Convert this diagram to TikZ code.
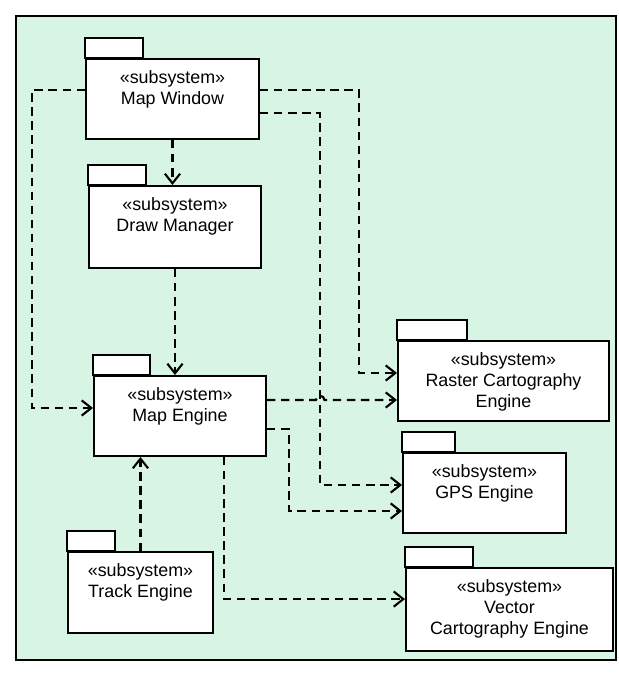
\documentclass[tikz,border=0pt]{standalone}
\usepackage{fontspec}
\setmainfont{Liberation Sans}
\usetikzlibrary{arrows.meta}
\definecolor{mint}{RGB}{216,244,228}

\begin{document}
\begin{tikzpicture}[x=0.025cm, y=-0.025cm, font=\fontsize{12.7}{15}\selectfont,
		pkg/.style={draw, line width=1.4pt, fill=white, anchor=north west, inner sep=0pt},
		pkgtab/.style={draw, line width=1.4pt, fill=white},
		pkglabel/.style={anchor=north, align=center, inner sep=0pt},
		dep/.style={line width=1.5pt, dash pattern=on 6pt off 4pt,
			-{Straight Barb[length=2.4mm, width=3.8mm]}}]
		\useasboundingbox (0,0) rectangle (619,679);
		% рамка
		\draw[line width=1.6pt, fill=mint] (16,16) rectangle (616,660);
		% пакеты
		\foreach \nm/\x/\y/\w/\h/\tw/\txt in {
			mw/85/58/173/80/58/{«subsystem»\\Map Window},
			dm/88/185/172/82/58/{«subsystem»\\Draw Manager},
			me/93/375/172/80/57/{«subsystem»\\Map Engine},
			te/67/551/145/81/48/{«subsystem»\\Track Engine},
			rc/397/340/211/80/70/{«subsystem»\\Raster Cartography\\Engine},
			gps/402/452/163/80/53/{«subsystem»\\GPS Engine},
			vc/405/567/207/83/68/{«subsystem»\\Vector\\Cartography Engine}}{
			\draw[pkgtab] (\x,\y) rectangle ++(\tw,-20);
			\node[pkg, minimum width=\w*0.025cm, minimum height=\h*0.025cm] (\nm) at (\x,\y) {};
			\node[pkglabel] (\nm-txt) at ([yshift=-0.3cm]\nm.north) {\txt};
		}
		% зависимости от Map Window
		\draw[dep] (mw.south) -- (mw.south |- dm.north);
		\draw[dep] ([yshift=.225cm]mw.west) -- ++(-53,0) |- ([yshift=.2cm]me.west);
		\draw[dep] ([yshift=.225cm]mw.east) -- ++(99,0) |- ([yshift=.2cm]rc.west);
		\draw[dep] ([yshift=-.35cm]mw.east) -- ++(60,0) |- ([yshift=.2cm]gps.west);
		% Draw Manager и Track Engine
		\draw[dep] (dm.south) -- (dm.south |- me.north);
		\draw[dep] (te.north) -- (te.north |- me.south);
		% зависимости от Map Engine
		\draw[dep] ([yshift=-.475cm]rc.west -| me.east) -- ++(49,0)
			arc[start angle=180, end angle=0, radius=3pt] -- ([yshift=-.475cm]rc.west);
		\draw[dep] ([yshift=-.325cm]me.east) -- ++(22,0) |- ([yshift=-.45cm]gps.west);
		\draw[dep] ([xshift=1.1cm]me.south) |- ([yshift=.26cm]vc.west);
	\end{tikzpicture}
\end{document}
